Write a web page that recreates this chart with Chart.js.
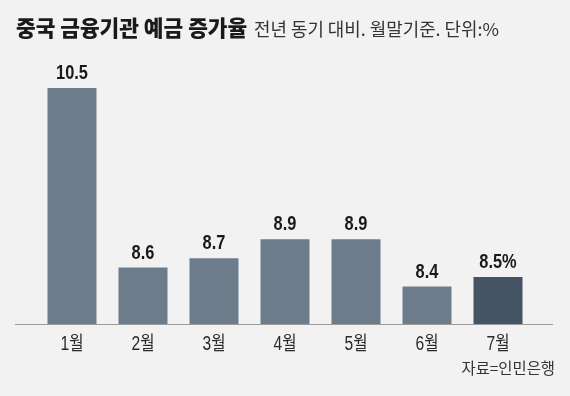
<!DOCTYPE html>
<html>
<head>
<meta charset="utf-8">
<script src="https://cdn.jsdelivr.net/npm/chart.js@4.4.1/dist/chart.umd.min.js"></script>
<style>
  html, body { margin: 0; padding: 0; background: #f2f2f2; }
  #wrap { position: relative; width: 570px; height: 396px; overflow: hidden; background: #f2f2f2; }
  canvas { position: absolute; left: 0; top: 0; }
  .t { position: absolute; white-space: nowrap; font-family: 'Noto Sans CJK KR', sans-serif; }
  #title { left: 16px; top: 16px; font-size: 21.4px; line-height: 21.4px; font-weight: 900; color: #1a1a1a; }
  #sub { left: 254px; top: 19.6px; font-size: 17.9px; line-height: 17.9px; font-weight: 400; color: #333; }
  #src { right: 15px; top: 360px; font-size: 15.4px; line-height: 15.4px; color: #333; }
</style>
</head>
<body>
<div id="wrap">
  <canvas id="c" width="570" height="396"></canvas>
  <div class="t" id="title">중국 금융기관 예금 증가율</div>
  <div class="t" id="sub">전년 동기 대비. 월말기준. 단위:%</div>
  <div class="t" id="src">자료=인민은행</div>
</div>
<script>
const categories = ['1월', '2월', '3월', '4월', '5월', '6월', '7월'];
const values = [10.5, 8.6, 8.7, 8.9, 8.9, 8.4, 8.5];
const valueLabels = ['10.5', '8.6', '8.7', '8.9', '8.9', '8.4', '8.5%'];
const barColors = ['#6d7c8b', '#6d7c8b', '#6d7c8b', '#6d7c8b', '#6d7c8b', '#6d7c8b', '#455464'];

const numFont = "'Liberation Sans', 'Noto Sans CJK KR', sans-serif";

function narrowText(ctx, text, x, y, sx) {
  ctx.save();
  ctx.translate(x, y);
  ctx.scale(sx, 1);
  ctx.fillText(text, 0, 0);
  ctx.restore();
}

const labelPlugin = {
  id: 'labels',
  afterDatasetsDraw(chart) {
    const ctx = chart.ctx;
    const meta = chart.getDatasetMeta(0);
    const yScale = chart.scales.y;
    const xScale = chart.scales.x;
    const base = yScale.getPixelForValue(yScale.min);
    ctx.save();
    // baseline
    ctx.strokeStyle = '#9a9a9a';
    ctx.lineWidth = 1;
    ctx.beginPath();
    ctx.moveTo(15, Math.round(base) + 0.5);
    ctx.lineTo(553, Math.round(base) + 0.5);
    ctx.stroke();
    // value labels
    ctx.fillStyle = '#1a1a1a';
    ctx.font = "bold 21px " + numFont;
    ctx.textAlign = 'center';
    ctx.textBaseline = 'alphabetic';
    meta.data.forEach((bar, i) => {
      narrowText(ctx, valueLabels[i], bar.x, bar.y - 9, 0.78);
    });
    // category labels from the x scale
    ctx.fillStyle = '#2a2a2a';
    ctx.font = "19.5px " + numFont;
    xScale.ticks.forEach((t, i) => {
      const x = xScale.getPixelForTick(i);
      narrowText(ctx, xScale.getLabelForValue(t.value), x, base + 25.5, 0.8);
    });
    ctx.restore();
  }
};

new Chart(document.getElementById('c'), {
  type: 'bar',
  data: {
    labels: categories,
    datasets: [{
      data: values,
      backgroundColor: barColors,
      borderWidth: 0,
      categoryPercentage: 1,
      barPercentage: 0.69
    }]
  },
  options: {
    responsive: false,
    animation: false,
    events: [],
    layout: { padding: { left: 36.5, right: 36.5, top: 40.8, bottom: 0 } },
    plugins: { legend: { display: false }, tooltip: { enabled: false } },
    scales: {
      x: {
        grid: { display: false },
        border: { display: false },
        ticks: { display: false },
        afterFit(scale) { scale.height = 71.7; }
      },
      y: {
        display: false,
        min: 8,
        max: 11
      }
    }
  },
  plugins: [labelPlugin]
});
</script>
</body>
</html>
